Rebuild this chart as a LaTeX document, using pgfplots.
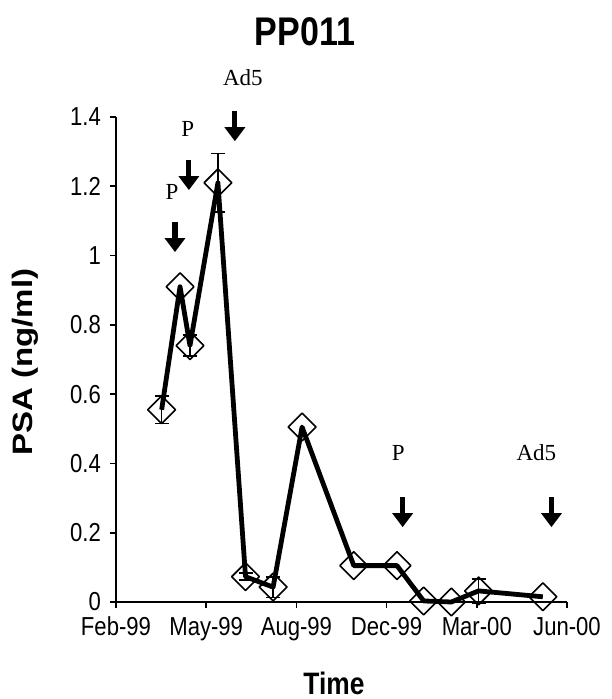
\documentclass[border=0pt]{standalone}
\usepackage{fontspec}
\setmainfont{Liberation Sans}[FakeStretch=0.85]
\newfontfamily\plainsans{Liberation Sans}
\newfontfamily\annfont{Liberation Serif}
\usepackage{graphicx}
\usepackage{pgfplots}
\pgfplotsset{compat=1.18}
\usetikzlibrary{arrows.meta}
\begin{document}
\begin{tikzpicture}
\useasboundingbox (-58pt,-48.5pt) rectangle (247.5pt,301pt);
\begin{axis}[
  at={(0,0)}, anchor=south west,
  scale only axis, width=225.5pt, height=242.5pt,
  xmin=0, xmax=5, ymin=0, ymax=1.4,
  axis x line=bottom, axis y line=left,
  axis line style={-, line width=0.8pt},
  xtick={0,1,2,3,4,5},
  xticklabels={Feb-99,May-99,Aug-99,Dec-99,Mar-00,Jun-00},
  ytick={0,0.2,0.4,0.6,0.8,1,1.2,1.4},
  yticklabels={0,0.2,0.4,0.6,0.8,1,1.2,1.4},
  tick align=outside, major tick length=3pt,
  tick style={line width=0.8pt, black},
  ticklabel style={font=\fontsize{13}{15}\selectfont},
  xticklabel style={yshift=-1pt},
  yticklabel style={xshift=-1pt},
  clip=false,
]
% error bars first, so that the markers cover them
\addplot[draw=none, mark=none, forget plot,
  error bars/.cd, y dir=both, y explicit,
  error bar style={line width=0.8pt, black, draw=black},
  error mark options={rotate=90, mark size=3.5pt, line width=0.8pt, black, draw=black}]
  coordinates {
  (0.506,0.555) +- (0,0.04)
  (0.82,0.74) +- (0,0.03)
  (1.13,1.21) +- (0,0.085)
  (1.436,0.073) +- (0,0.01)
  (1.742,0.043) +- (0,0.03)
  (4.02,0.032) +- (0,0.035)
  };
\addplot[black, line width=2.4pt, line join=round,
  mark=square, mark size=4.9pt,
  mark options={rotate=45, fill=white, line width=0.8pt, solid}]
  coordinates {
  (0.506,0.555)
  (0.71,0.91)
  (0.82,0.74)
  (1.13,1.21)
  (1.436,0.073)
  (1.742,0.043)
  (2.063,0.505)
  (2.636,0.105)
  (3.115,0.105)
  (3.411,0.003)
  (3.717,0.0)
  (4.02,0.032)
  (4.732,0.015)
  };
\tikzset{dnarrow/.style={line width=2.6pt, -{Triangle[width=10pt,length=7pt]}}}
\draw[dnarrow] (axis cs:0.654,1.097) -- (axis cs:0.654,1.01);
\draw[dnarrow] (axis cs:0.808,1.276) -- (axis cs:0.808,1.189);
\draw[dnarrow] (axis cs:1.318,1.417) -- (axis cs:1.318,1.33);
\draw[dnarrow] (axis cs:3.178,0.303) -- (axis cs:3.178,0.216);
\draw[dnarrow] (axis cs:4.828,0.303) -- (axis cs:4.828,0.216);
\node[font=\annfont\fontsize{11.5}{12}\selectfont] at (axis cs:0.62,1.183) {P};
\node[font=\annfont\fontsize{11.5}{12}\selectfont] at (axis cs:0.797,1.365) {P};
\node[font=\annfont\fontsize{11.5}{12}\selectfont] at (axis cs:1.406,1.515) {Ad5};
\node[font=\annfont\fontsize{11.5}{12}\selectfont] at (axis cs:3.13,0.43) {P};
\node[font=\annfont\fontsize{11.5}{12}\selectfont] at (axis cs:4.66,0.43) {Ad5};
\end{axis}
\node[font=\bfseries\fontsize{20}{22}\selectfont] at (94.5pt,285pt) {PP011};
\node[font=\bfseries\fontsize{15.5}{17}\selectfont] at (109pt,-40.5pt) {Time};
\node[rotate=90, font=\plainsans\bfseries\fontsize{16.5}{18}\selectfont] at (-45.5pt,120pt) {\scalebox{1}[0.85]{PSA (ng/ml)}};
\end{tikzpicture}
\end{document}
